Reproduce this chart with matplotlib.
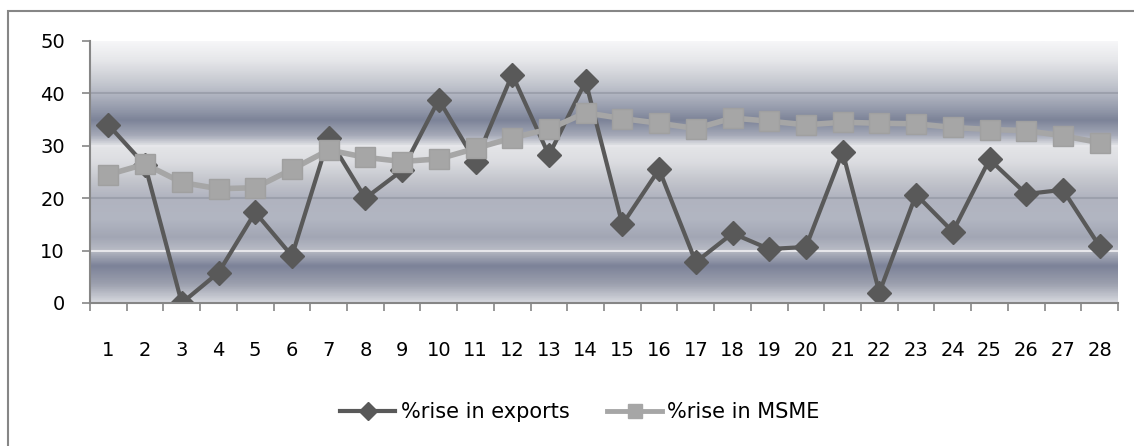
import matplotlib.pyplot as plt
import numpy as np
from matplotlib.colors import LinearSegmentedColormap
from matplotlib.lines import Line2D

# data
periods = list(range(1, 29))
exports = [34.0, 26.3, 0.0, 5.8, 17.3, 9.0, 31.5, 20.0, 25.3, 38.8, 27.0, 43.6, 28.2, 42.3,
           15.0, 25.5, 7.8, 13.3, 10.3, 10.7, 28.8, 2.0, 20.7, 13.6, 27.4, 20.8, 21.6, 10.8]
msme = [24.5, 26.5, 23.0, 21.8, 22.0, 25.5, 29.2, 27.8, 27.0, 27.5, 29.5, 31.5, 33.2, 36.3,
        35.2, 34.3, 33.3, 35.3, 34.7, 34.0, 34.5, 34.3, 34.2, 33.5, 33.1, 32.9, 31.9, 30.6]
yticks = [0, 10, 20, 30, 40, 50]

fig = plt.figure(figsize=(11.34, 4.46), dpi=100)
# outer chart frame (right/bottom cut off in the original)
fig.add_artist(plt.Rectangle((8 / 1134, -0.1), 1.2, 1 - 10.5 / 446 + 0.1, transform=fig.transFigure,
                             fill=False, edgecolor='#868686', linewidth=1.5))

ax = fig.add_axes([90 / 1134, 1 - 303 / 446, (1118 - 90) / 1134, (303 - 41) / 446])

# vertical gradient background (top -> bottom)
stops = [(0.00, '#f6f6f8'), (0.07, '#e6e7ea'), (0.15, '#c8cbd2'), (0.20, '#b2b6c2'),
         (0.27, '#8e94a6'), (0.30, '#7c8398'), (0.36, '#a6aab8'), (0.40, '#e4e5e8'),
         (0.46, '#dcdde1'), (0.53, '#c4c6cd'), (0.60, '#b0b3bf'), (0.68, '#b2b6c2'),
         (0.75, '#a2a6b4'), (0.80, '#b8bbc5'), (0.86, '#7c8298'), (0.93, '#9ca0ae'),
         (1.00, '#d6d8de')]
cmap = LinearSegmentedColormap.from_list('bg', stops)
grad = np.linspace(0, 1, 400).reshape(-1, 1)
ax.imshow(grad, cmap=cmap, aspect='auto', extent=[0.5, 28.5, 0, 50], origin='upper', zorder=0)

# gridlines
for v, c in [(10, '#e6e6ea'), (20, '#9ca0ac'), (30, '#e6e6ea'), (40, '#9ca0ac')]:
    ax.axhline(v, color=c, linewidth=1.5, zorder=1)

ax.plot(periods, exports, color='#595959', linewidth=3, marker='D', markersize=12.5,
        markerfacecolor='#595959', markeredgecolor='#595959', zorder=2)
ax.plot(periods, msme, color='#a6a6a6', linewidth=4, marker='s', markersize=14,
        markerfacecolor='#a6a6a6', markeredgecolor='#a0a0a0', zorder=3)

ax.set_xlim(0.5, 28.5)
ax.set_ylim(0, 50)
for s in ['top', 'right']:
    ax.spines[s].set_visible(False)
for s in ['left', 'bottom']:
    ax.spines[s].set_color('#868686')
    ax.spines[s].set_linewidth(1.5)
    ax.spines[s].set_zorder(4)

ax.set_yticks(yticks)
ax.set_yticklabels([str(v) for v in yticks], fontsize=14)
ax.tick_params(axis='y', length=6, width=1.2, color='#868686', pad=12)

ax.set_xticks(np.arange(0.5, 29, 1))
ax.set_xticklabels([])
ax.tick_params(axis='x', which='major', length=6, width=1.2, color='#868686', direction='out')
ax.set_xticks(periods, minor=True)
ax.set_xticklabels([str(p) for p in periods], minor=True, fontsize=14)
ax.tick_params(axis='x', which='minor', length=0, pad=27)

handles = [Line2D([], [], color='#595959', linewidth=3, marker='D', markersize=9),
           Line2D([], [], color='#a6a6a6', linewidth=3.5, marker='s', markersize=10)]
fig.legend(handles, ['%rise in exports', '%rise in MSME'], loc='center',
           bbox_to_anchor=(580 / 1134, 1 - 412 / 446), ncol=2, frameon=False,
           fontsize=15, handlelength=2.65, handletextpad=0.25, columnspacing=1.8)

fig.savefig('out.png', dpi=100)
